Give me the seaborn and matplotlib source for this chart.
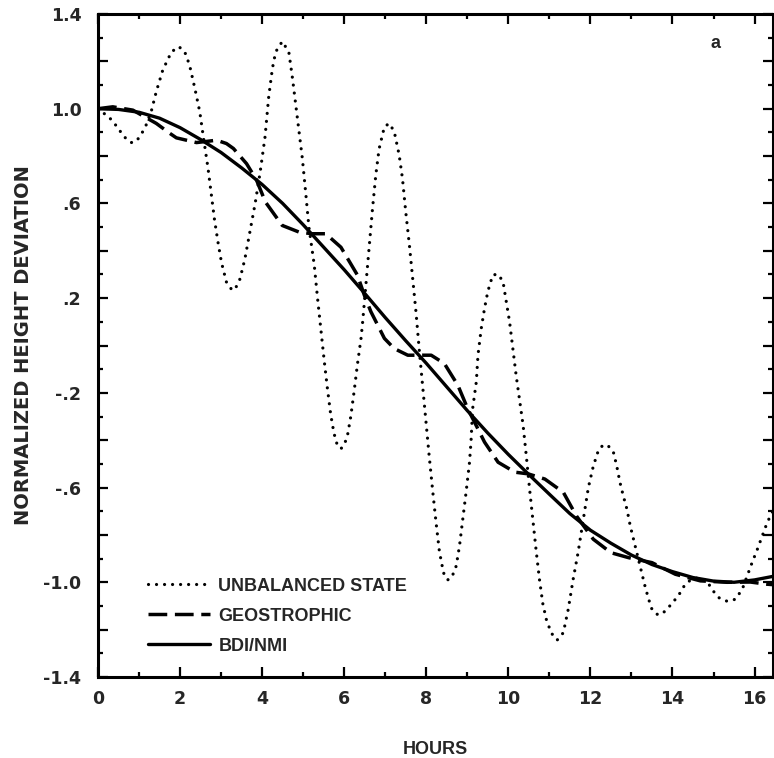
import numpy as np
import pandas as pd
import seaborn as sns
import matplotlib
matplotlib.use("Agg")
import matplotlib.pyplot as plt
from matplotlib.ticker import FixedLocator, MultipleLocator

#### values (hours, normalized height deviation)
unbal_hours = [0.00, 0.28, 0.40, 0.52, 0.64, 0.81, 0.93, 1.05, 1.17, 1.30, 1.42, 1.58, 1.79, 1.97,
               2.11, 2.23, 2.36, 2.48, 2.56, 2.68, 2.76, 2.84, 2.93, 3.01, 3.13, 3.25, 3.33, 3.46,
               3.58, 3.70, 3.83, 3.95, 4.07, 4.16, 4.25, 4.33, 4.49, 4.65, 4.74, 4.82, 4.90, 4.98,
               5.06, 5.14, 5.27, 5.35, 5.43, 5.51, 5.59, 5.67, 5.75, 5.83, 5.92, 6.00, 6.08, 6.16,
               6.24, 6.32, 6.41, 6.45, 6.53, 6.61, 6.69, 6.77, 6.85, 6.98, 7.10, 7.22, 7.34, 7.42,
               7.50, 7.59, 7.67, 7.75, 7.83, 7.91, 7.99, 8.07, 8.16, 8.24, 8.32, 8.42, 8.52, 8.62,
               8.73, 8.81, 8.89, 8.97, 9.05, 9.09, 9.13, 9.22, 9.26, 9.34, 9.42, 9.50, 9.62, 9.75,
               9.87, 9.95, 10.03, 10.11, 10.19, 10.27, 10.36, 10.44, 10.52, 10.60, 10.68, 10.76,
               10.84, 10.93, 11.05, 11.19, 11.34, 11.46, 11.58, 11.70, 11.83, 11.95, 12.07, 12.20,
               12.32, 12.44, 12.56, 12.64, 12.72, 12.80, 12.89, 12.97, 13.05, 13.17, 13.25, 13.33,
               13.42, 13.50, 13.62, 13.74, 13.90, 14.07, 14.19, 14.31, 14.47, 14.66, 14.84, 14.96,
               15.13, 15.33, 15.53, 15.70, 15.82, 15.94, 16.07, 16.19, 16.31, 16.43, 16.53]
unbal_vals = [1.000, 0.962, 0.938, 0.910, 0.881, 0.857, 0.862, 0.890, 0.930, 0.990, 1.072, 1.164, 1.240, 1.262,
              1.242, 1.185, 1.086, 0.987, 0.890, 0.750, 0.640, 0.530, 0.430, 0.350, 0.268, 0.238, 0.234, 0.281,
              0.366, 0.479, 0.600, 0.730, 0.880, 1.050, 1.170, 1.240, 1.284, 1.240, 1.128, 1.016, 0.903, 0.790,
              0.648, 0.500, 0.340, 0.200, 0.070, -0.060, -0.180, -0.290, -0.370, -0.420, -0.436, -0.420, -0.380, -0.300,
              -0.196, -0.083, 0.030, 0.100, 0.260, 0.420, 0.578, 0.720, 0.830, 0.924, 0.938, 0.903, 0.804, 0.705,
              0.564, 0.422, 0.281, 0.140, -0.020, -0.170, -0.320, -0.465, -0.620, -0.750, -0.870, -0.960, -0.990, -0.980,
              -0.931, -0.846, -0.733, -0.620, -0.500, -0.408, -0.267, -0.153, -0.041, 0.072, 0.157, 0.228, 0.298, 0.301,
              0.270, 0.185, 0.100, -0.013, -0.126, -0.225, -0.337, -0.470, -0.610, -0.740, -0.870, -0.990,
              -1.090, -1.160, -1.215, -1.244, -1.213, -1.114, -0.987, -0.874, -0.733, -0.600, -0.510, -0.440,
              -0.419, -0.425, -0.450, -0.507, -0.578, -0.634, -0.691, -0.761, -0.818, -0.903, -0.959, -1.016,
              -1.072, -1.114, -1.135, -1.135, -1.107, -1.072, -1.044, -1.008, -0.987, -0.980, -0.994, -1.030,
              -1.065, -1.080, -1.072, -1.030, -0.973, -0.917, -0.860, -0.804, -0.747, -0.705, -0.684]

geo_hours = [0.00, 0.36, 0.85, 1.42, 1.75, 1.91, 2.40, 2.65, 2.89, 3.13, 3.30, 3.62, 3.86, 4.08,
             4.49, 4.90, 5.22, 5.55, 5.92, 6.32, 6.49, 6.65, 6.98, 7.22, 7.55, 8.12, 8.44, 8.77,
             9.01, 9.18, 9.42, 9.75, 10.16, 10.48, 10.89, 11.34, 11.66, 12.07, 12.50, 12.93, 13.50,
             14.07, 14.68, 15.33, 15.90, 16.30, 16.45]
geo_vals = [1.000, 1.008, 0.994, 0.938, 0.896, 0.877, 0.857, 0.862, 0.867, 0.853, 0.832, 0.768, 0.700, 0.606,
            0.507, 0.479, 0.472, 0.472, 0.415, 0.298, 0.213, 0.143, 0.030, -0.013, -0.041, -0.041, -0.076, -0.168,
            -0.267, -0.325, -0.408, -0.493, -0.535, -0.542, -0.564, -0.620, -0.720, -0.818, -0.875, -0.896, -0.917,
            -0.966, -0.994, -1.000, -0.999, -1.008, -1.010]

bdi_hours = [0.0, 0.5, 1.0, 1.5, 2.0, 2.5, 3.0, 3.5, 4.0, 4.5, 5.0, 5.5, 6.0, 6.5, 7.0, 7.5, 8.0, 8.5,
             9.0, 9.5, 10.0, 10.5, 11.0, 11.5, 12.0, 12.5, 13.0, 13.5, 14.0, 14.5, 15.0, 15.5, 16.0, 16.45]
bdi_vals = [1.000, 0.997, 0.985, 0.960, 0.920, 0.870, 0.815, 0.750, 0.680, 0.600, 0.510, 0.415, 0.320, 0.220,
            0.118, 0.020, -0.075, -0.175, -0.275, -0.370, -0.460, -0.545, -0.628, -0.710, -0.780, -0.835,
            -0.885, -0.925, -0.955, -0.980, -0.995, -1.000, -0.990, -0.975]

labels = ["UNBALANCED STATE", "GEOSTROPHIC", "BDI/NMI"]
ytick_vals = [-1.4, -1.0, -0.6, -0.2, 0.2, 0.6, 1.0, 1.4]
ytick_text = ["-1.4", "-1.0", "-.6", "-.2", ".2", ".6", "1.0", "1.4"]
xtick_vals = [0, 2, 4, 6, 8, 10, 12, 14, 16]

sns.set_style("ticks")
plt.rcParams['font.family'] = ['Liberation Sans', 'DejaVu Sans']
plt.rcParams['font.weight'] = 'bold'
num_font = ['DejaVu Sans']

fig = plt.figure(figsize=(7.74, 7.58), dpi=100)
ax = fig.add_axes([98/774, 1 - 677/758, 675/774, 663/758])

df_u = pd.DataFrame({"hours": unbal_hours, "val": unbal_vals})
df_g = pd.DataFrame({"hours": geo_hours, "val": geo_vals})
df_b = pd.DataFrame({"hours": bdi_hours, "val": bdi_vals})

sns.lineplot(data=df_u, x="hours", y="val", ax=ax, color="black", lw=2.3,
             linestyle=(0, (0.01, 2.5)), dash_capstyle="round", errorbar=None, label=labels[0])
sns.lineplot(data=df_g, x="hours", y="val", ax=ax, color="black", lw=2.5,
             linestyle=(0, (5.4, 2.2)), errorbar=None, label=labels[1])
sns.lineplot(data=df_b, x="hours", y="val", ax=ax, color="black", lw=2.4,
             errorbar=None, label=labels[2])

ax.set_xlim(0, 16.45)
ax.set_ylim(-1.4, 1.4)

ax.xaxis.set_major_locator(FixedLocator(xtick_vals))
ax.xaxis.set_minor_locator(MultipleLocator(1))
ax.set_xticklabels([str(v) for v in xtick_vals])
# major ticks every .2, labels every .4
ax.yaxis.set_minor_locator(MultipleLocator(0.1))
ylabs = []
for v in np.arange(-1.4, 1.41, 0.2):
    match = [t for tv, t in zip(ytick_vals, ytick_text) if abs(tv - v) < 1e-6]
    ylabs.append(match[0] if match else "")
ax.set_yticks(np.arange(-1.4, 1.41, 0.2))
ax.set_yticklabels(ylabs)

ax.tick_params(which="both", direction="in", top=True, right=True, width=1.6, color="black")
ax.tick_params(which="major", length=7)
ax.tick_params(which="minor", length=3.5)
ax.tick_params(axis="x", which="major", pad=9, labelsize=12.5)
ax.tick_params(axis="y", which="major", pad=12, labelsize=12.5)
for lab in ax.get_xticklabels() + ax.get_yticklabels():
    lab.set_family(num_font)
    lab.set_fontweight("bold")
for s in ax.spines.values():
    s.set_linewidth(2.2)
    s.set_color("black")

ax.set_xlabel("HOURS", fontsize=13, fontweight="bold", labelpad=24)
ax.set_ylabel("NORMALIZED HEIGHT DEVIATION", fontsize=14, fontweight="bold", labelpad=7,
              family=num_font)
ax.text(0.915, 0.955, "a", transform=ax.transAxes, fontsize=13, fontweight="bold", ha="center", va="center")

handles, labs = ax.get_legend_handles_labels()
leg = ax.legend(handles, labs, loc="upper left", bbox_to_anchor=(0.074, 0.150), frameon=False,
                handlelength=3.45, handletextpad=0.45, labelspacing=0.72, borderpad=0, borderaxespad=0,
                prop={"size": 13, "weight": "bold"})

fig.savefig("out.png", dpi=100)
